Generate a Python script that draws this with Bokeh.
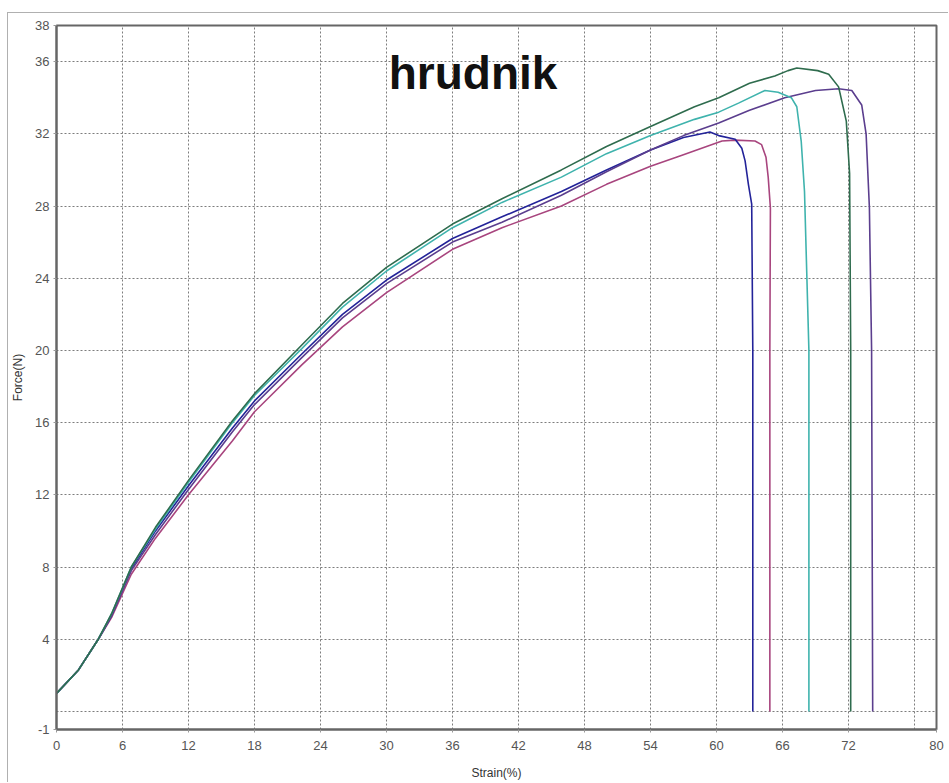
from bokeh.plotting import figure
from bokeh.models import FixedTicker, Label
from bokeh.embed import file_html
from bokeh.resources import INLINE

# ---- data ----
green_x = [0, 2, 3.8, 5, 6.8, 9, 12, 16, 18, 22.3, 26, 30, 36, 40.5, 45.9, 50, 54, 58, 60.2, 63, 65.3, 66.5, 67.3, 69.2, 70.2, 71.1, 71.8, 72.1, 72.2, 72.2]
green_y = [1, 2.3, 4, 5.4, 8, 10.2, 12.8, 16.1, 17.6, 20.3, 22.6, 24.6, 27.0, 28.4, 30.0, 31.3, 32.4, 33.5, 34.0, 34.8, 35.2, 35.5, 35.65, 35.5, 35.3, 34.6, 32.7, 29.8, 20, 0]

cyan_x = [0, 2, 3.8, 5, 6.8, 9, 12, 16, 18, 22.3, 26, 30, 36, 40.5, 45.9, 50, 54, 58, 60.2, 62, 64.4, 65.6, 66.8, 67.3, 67.7, 68.0, 68.4, 68.4]
cyan_y = [1, 2.3, 4, 5.4, 8, 10.1, 12.7, 16.0, 17.5, 20.1, 22.4, 24.4, 26.8, 28.2, 29.6, 30.9, 31.9, 32.8, 33.2, 33.7, 34.4, 34.3, 34.0, 33.5, 31.6, 28.8, 20, 0]

purple_x = [0, 2, 3.8, 5, 6.8, 9, 12, 16, 18, 22.3, 26, 30, 36, 40.5, 45.9, 50, 54, 57, 60.2, 63, 66.2, 69, 71.1, 72.3, 73.2, 73.6, 73.9, 74.1, 74.2]
purple_y = [1, 2.3, 4, 5.3, 7.8, 9.8, 12.3, 15.5, 17.0, 19.6, 21.8, 23.7, 26.0, 27.1, 28.6, 29.9, 31.1, 31.9, 32.6, 33.3, 34.0, 34.4, 34.5, 34.4, 33.6, 32.0, 27.9, 20, 0]

blue_x = [0, 2, 3.8, 5, 6.8, 9, 12, 16, 18, 22.3, 26, 30, 36, 40.5, 45.9, 50, 54, 57, 59.4, 60.2, 61.7, 62.3, 62.6, 62.9, 63.2, 63.3, 63.3]
blue_y = [1, 2.3, 4, 5.3, 7.9, 10.0, 12.5, 15.7, 17.2, 19.8, 22.0, 23.9, 26.2, 27.4, 28.8, 30.0, 31.1, 31.8, 32.1, 31.9, 31.7, 31.2, 30.5, 29.2, 28.1, 20, 0]

magenta_x = [0, 2, 3.8, 5, 6.8, 9, 12, 16, 18, 22.3, 26, 30, 36, 40.5, 45.9, 50, 54, 56.8, 60.5, 61.7, 63.5, 64.1, 64.5, 64.7, 64.9, 64.85, 64.85]
magenta_y = [1, 2.3, 4, 5.2, 7.6, 9.6, 12.0, 15.0, 16.6, 19.2, 21.3, 23.2, 25.6, 26.8, 28.0, 29.2, 30.2, 30.8, 31.6, 31.65, 31.6, 31.4, 30.7, 29.6, 27.9, 20, 0]

x_ticks = [0, 6, 12, 18, 24, 30, 36, 42, 48, 54, 60, 66, 72, 80]
x_grid = [6, 12, 18, 24, 30, 36, 42, 48, 54, 60, 66, 72, 78]
y_ticks = [-1, 4, 8, 12, 16, 20, 24, 28, 32, 36, 38]
y_grid = [0, 4, 8, 12, 16, 20, 24, 28, 32, 36]

title_text = "hrudnik"
x_label = "Strain(%)"
y_label = "Force(N)"

p = figure(width=941, height=770, x_range=(0, 80), y_range=(-1, 38),
           output_backend="svg", toolbar_location=None,
           min_border_left=47, min_border_right=13, min_border_top=12, min_border_bottom=54)
p.styles = {"border-left": "1px solid #b0b0b0", "border-top": "1px solid #b0b0b0",
            "margin-left": "7px", "margin-top": "12px"}

p.outline_line_color = "#666666"
p.outline_line_width = 2

for ax, t in ((p.xaxis[0], x_ticks), (p.yaxis[0], y_ticks)):
    ax.ticker = FixedTicker(ticks=t)
    ax.axis_line_color = "#666666"
    ax.axis_line_width = 2
    ax.major_tick_in = 0
    ax.major_tick_out = 3
    ax.major_tick_line_color = "#999999"
    ax.minor_tick_line_color = None
    ax.major_label_text_font = "Liberation Sans"
    ax.major_label_text_font_size = "13px"
    ax.major_label_text_color = "#555555"
    ax.axis_label_text_font = "Liberation Sans"
    ax.axis_label_text_font_size = "12px"
    ax.axis_label_text_font_style = "normal"
    ax.axis_label_text_color = "#333333"

p.yaxis[0].major_label_overrides = {-1: "-1"}
p.xaxis[0].axis_label = x_label
p.yaxis[0].axis_label = y_label
p.xaxis[0].major_label_standoff = 8
p.xaxis[0].axis_label_standoff = 13
p.yaxis[0].major_label_standoff = 4
p.yaxis[0].axis_label_standoff = 7

p.xgrid.ticker = FixedTicker(ticks=x_grid)
p.ygrid.ticker = FixedTicker(ticks=y_grid)
for g in (p.xgrid, p.ygrid):
    g.grid_line_color = "#666666"
    g.grid_line_dash = "2 2"
    g.grid_line_width = 1
    g.grid_line_alpha = 0.85

series = [
    (magenta_x, magenta_y, "#a8457e"),
    (blue_x, blue_y, "#232399"),
    (purple_x, purple_y, "#5b3e8e"),
    (cyan_x, cyan_y, "#3fb3ad"),
    (green_x, green_y, "#2f6c4e"),
]
for xs, ys, c in series:
    p.line(xs, ys, line_color=c, line_width=1.6)

p.add_layout(Label(x=30.2, y=35.35, text=title_text, text_font="Liberation Sans",
                   text_font_size="46px", text_font_style="bold", text_color="#111111",
                   text_align="left", text_baseline="alphabetic"))

open("out.html", "w").write(file_html(p, INLINE))
